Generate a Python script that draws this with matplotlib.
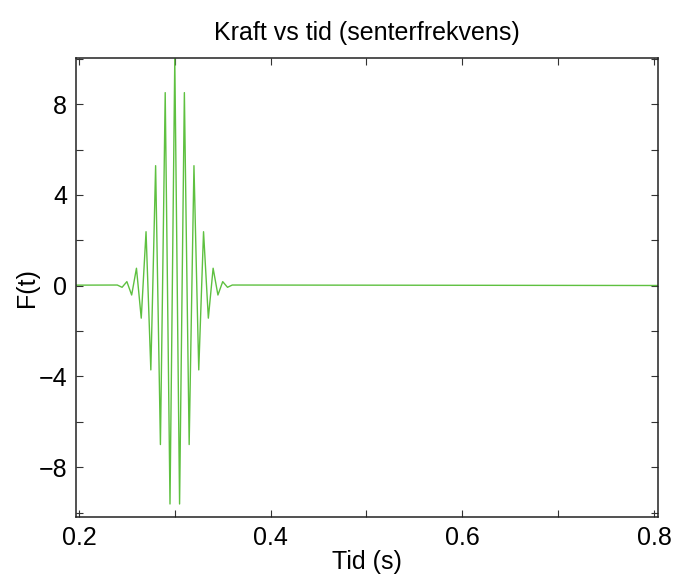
import numpy as np
import matplotlib.pyplot as plt

plt.rcParams['font.family'] = ['Liberation Sans', 'DejaVu Sans']

# Extrema of the force pulse (time in s, force)
peak_times = [0.240, 0.245, 0.250, 0.255, 0.260, 0.265, 0.270, 0.275, 0.280, 0.285,
              0.290, 0.295, 0.300, 0.305, 0.310, 0.315, 0.320, 0.325, 0.330, 0.335,
              0.340, 0.345, 0.350, 0.355, 0.360]
peak_values = [0.03, -0.07, 0.18, -0.41, 0.77, -1.43, 2.38, -3.71, 5.29, -7.00,
               8.51, -9.62, 10.0, -9.62, 8.51, -7.00, 5.29, -3.71, 2.38, -1.43,
               0.77, -0.41, 0.18, -0.07, 0.03]

# flat (zero) part of the signal before and after the pulse
signal_start = 0.0
signal_end = 1.0

t = np.concatenate([[signal_start], peak_times, [signal_end]])
F = np.concatenate([[0.0], peak_values, [0.0]])

fig = plt.figure(figsize=(6.77, 5.75), dpi=100)
ax = fig.add_axes([0.1118, 0.1014, 0.8606, 0.7983])

ax.plot(t, F, color='#5EC040', linewidth=1.0)

ax.set_xlim(0.1966, 0.8045)
ax.set_ylim(-10.18, 10.05)

ax.set_xticks([0.2, 0.4, 0.6, 0.8])
ax.set_xticklabels(['0.2', '0.4', '0.6', '0.8'])
ax.set_xticks([0.3, 0.5, 0.7], minor=True)
ax.set_yticks([-8, -4, 0, 4, 8])
ax.set_yticklabels(['\u22128', '\u22124', '0', '4', '8'])
ax.set_yticks([-10, -6, -2, 2, 6, 10], minor=True)

ax.tick_params(which='both', direction='in', top=True, right=True,
               length=5, width=0.8, color='#333333', labelsize=18)
ax.tick_params(axis='x', pad=7)
ax.tick_params(axis='y', pad=6)

for s in ax.spines.values():
    s.set_linewidth(1.1)
    s.set_color('#222222')

ax.set_title('Kraft vs tid (senterfrekvens)', fontsize=18, pad=13)
ax.set_xlabel('Tid (s)', fontsize=18, labelpad=0)
ax.set_ylabel('F(t)', fontsize=18, labelpad=0)

fig.savefig('out.png', dpi=100)
